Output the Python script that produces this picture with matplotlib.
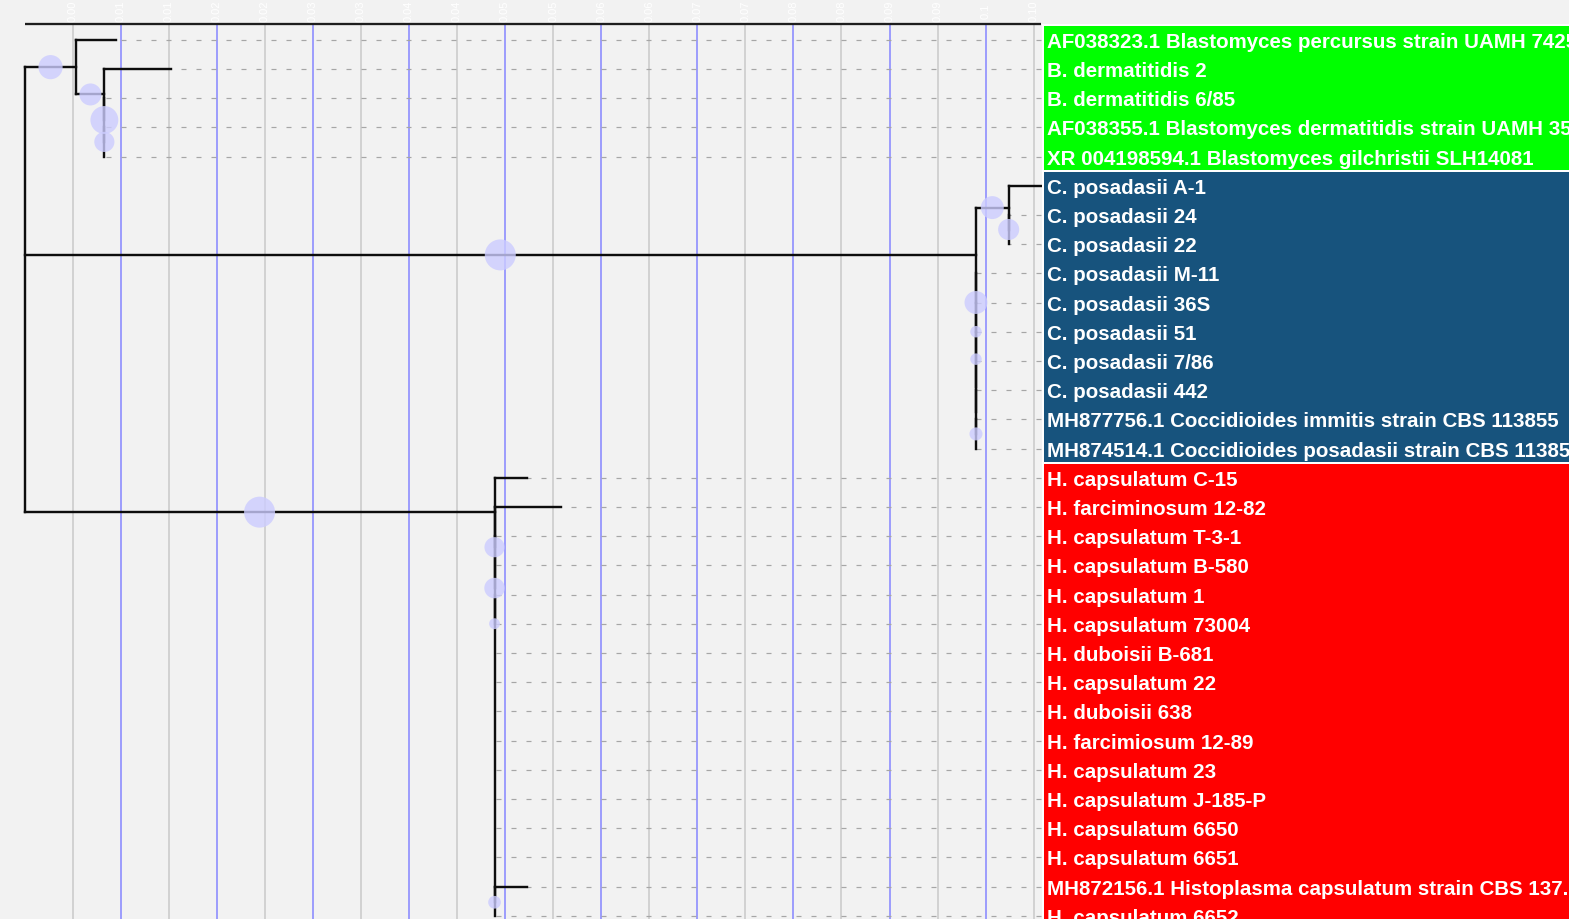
"""
Phylogenetic tree of Blastomyces / Coccidioides / Histoplasma isolates,
redrawn in the ETE-like style (support bubbles, aligned coloured labels).
"""
import matplotlib
matplotlib.use('Agg')
import matplotlib.pyplot as plt
from matplotlib.patches import Rectangle


# leaves, top to bottom (row index = position in list)
leaf_names = [
    'AF038323.1 Blastomyces percursus strain UAMH 7425',
    'B. dermatitidis 2',
    'B. dermatitidis 6/85',
    'AF038355.1 Blastomyces dermatitidis strain UAMH 35',
    'XR 004198594.1 Blastomyces gilchristii SLH14081',
    'C. posadasii A-1',
    'C. posadasii 24',
    'C. posadasii 22',
    'C. posadasii M-11',
    'C. posadasii 36S',
    'C. posadasii 51',
    'C. posadasii 7/86',
    'C. posadasii 442',
    'MH877756.1 Coccidioides immitis strain CBS 113855',
    'MH874514.1 Coccidioides posadasii strain CBS 113858',
    'H. capsulatum C-15',
    'H. farciminosum 12-82',
    'H. capsulatum T-3-1',
    'H. capsulatum B-580',
    'H. capsulatum 1',
    'H. capsulatum 73004',
    'H. duboisii B-681',
    'H. capsulatum 22',
    'H. duboisii 638',
    'H. farcimiosum 12-89',
    'H. capsulatum 23',
    'H. capsulatum J-185-P',
    'H. capsulatum 6650',
    'H. capsulatum 6651',
    'MH872156.1 Histoplasma capsulatum strain CBS 137.7',
    'H. capsulatum 6652',
]
leaf_parent = ['B1', 'B2', 'B3', 'B4', 'B4',
               'C2', 'C3', 'C3', 'D', 'E', 'F', 'G', 'Hp', 'H', 'H',
               'Hn', 'I1', 'I2', 'I2',
               'I3', 'I3', 'I3', 'I3', 'I3', 'I3', 'I3', 'I3', 'I3', 'I3',
               'K', 'K']
leaf_len = [0.0041, 0.0069, 0, 0, 0,
            0.0034, 0, 0, 0, 0, 0, 0, 0, 0, 0,
            0.0034, 0.0069, 0, 0,
            0, 0, 0, 0, 0, 0, 0, 0, 0, 0,
            0.0034, 0]

# internal nodes: parent, branch length, y (row units), support
node_names = ['root', 'B1', 'B2', 'B3', 'B4',
              'C', 'C2', 'C3', 'D', 'E', 'F', 'G', 'Hp', 'H',
              'Hn', 'I1', 'I2', 'I3', 'K']
node_parent = [None, 'root', 'B1', 'B2', 'B3',
               'root', 'C', 'C2', 'C', 'D', 'E', 'F', 'G', 'Hp',
               'root', 'Hn', 'I1', 'I2', 'I3']
node_len = [0, 0.0054, 0.0029, 0, 0,
            0.0990, 0.0034, 0, 0, 0, 0, 0, 0, 0,
            0.0489, 0, 0, 0, 0]
node_y = [8.56, 0.94, 1.875, 2.75, 3.5,
          7.37, 5.75, 6.5, 9.0, 10.0, 10.94, 11.88, 12.75, 13.5,
          16.18, 17.38, 18.78, 20.0, 29.54]
node_support = [0, 78, 71, 90, 65,
                100, 74, 68, 74, 37, 37, 0, 0, 42,
                100, 65, 66, 35, 41]

# coloured label groups: (first row, last row, colour)
groups = [(0, 4, '#00ff00'), (5, 14, '#17537d'), (15, 30, '#ff0000')]

# scale ticks
major_ticks = [0.01, 0.02, 0.03, 0.04, 0.05, 0.06, 0.07, 0.08, 0.09, 0.10]
major_labels = ['0.01', '0.02', '0.03', '0.04', '0.05', '0.06', '0.07', '0.08', '0.09', '0.1']
minor_ticks = [0.005, 0.015, 0.025, 0.035, 0.045, 0.055, 0.065, 0.075, 0.085, 0.095, 0.105]
minor_labels = ['0.00', '0.01', '0.02', '0.03', '0.04', '0.05', '0.06', '0.07', '0.08', '0.09', '0.10']


# layout of the canvas (pixels)
W, H, DPI = 1569, 920, 100
PX_PER_UNIT = 9610.0
X0_PX = 24.6
ROW_PX = 29.2
ROW0_PX = 40.7

BG = '#f2f2f2'
plt.rcParams['font.family'] = ['Liberation Sans', 'DejaVu Sans']

fig = plt.figure(figsize=(W / DPI, H / DPI), dpi=DPI, facecolor=BG)
ax = fig.add_axes([0, 0, 1, 1])
ax.set_facecolor(BG)
ax.set_xlim(-X0_PX / PX_PER_UNIT, (W - X0_PX) / PX_PER_UNIT)
ax.set_ylim((H - ROW0_PX) / ROW_PX, -ROW0_PX / ROW_PX)
ax.axis('off')

px = 72.0 / DPI  # points per pixel

# node x positions from branch lengths
node_x = {}
idx = {n: i for i, n in enumerate(node_names)}
def get_x(name):
    if name in node_x:
        return node_x[name]
    i = idx[name]
    p = node_parent[i]
    node_x[name] = 0.0 if p is None else get_x(p) + node_len[i]
    return node_x[name]
for n in node_names:
    get_x(n)
leaf_x = [node_x[p] + l for p, l in zip(leaf_parent, leaf_len)]
leaf_y = list(range(len(leaf_names)))
tree_end = max(leaf_x)
top_y = -0.54

# scale grid
for t in minor_ticks:
    ax.plot([t, t], [top_y, 40], color='#cbcbcb', lw=1.6 * px, zorder=1)
for t in major_ticks:
    ax.plot([t, t], [top_y, 40], color='#8a8aff', lw=1.6 * px, zorder=1)
for t, lab in zip(major_ticks + minor_ticks, major_labels + minor_labels):
    ax.text(t, -1.02, lab, rotation=90, ha='center', va='center',
            color='white', fontsize=8)
ax.plot([0, tree_end], [top_y, top_y], color='#1e1e1e', lw=2.3 * px,
        solid_capstyle='butt', zorder=3)

# dashed guides from each leaf to the aligned labels
for x, y in zip(leaf_x, leaf_y):
    if tree_end - x > 0.0002:
        ax.plot([tree_end, x], [y, y], color='#a6a6a6', lw=1.2 * px,
                linestyle=(0, (5 / 1.2, 10 / 1.2)), zorder=2)

# branches
tree_kw = dict(color='#0d0d0d', lw=2.4 * px, solid_capstyle='projecting', zorder=4)
children_y = {n: [] for n in node_names}
for p, y in zip(leaf_parent, leaf_y):
    children_y[p].append(y)
for n, p, y in zip(node_names, node_parent, node_y):
    if p is not None:
        children_y[p].append(y)
for n in node_names:
    ys = children_y[n]
    ax.plot([node_x[n], node_x[n]], [min(ys), max(ys)], **tree_kw)
for n, p, y in zip(node_names, node_parent, node_y):
    if p is not None and node_x[n] > node_x[p]:
        ax.plot([node_x[p], node_x[n]], [y, y], **tree_kw)
for p, x, y in zip(leaf_parent, leaf_x, leaf_y):
    if x > node_x[p]:
        ax.plot([node_x[p], x], [y, y], **tree_kw)

# support bubbles at branch midpoints
bx, by, bs = [], [], []
for n, p, y, s in zip(node_names, node_parent, node_y, node_support):
    if p is None or s <= 0:
        continue
    r = s * 0.155  # radius in pixels
    bx.append((node_x[p] + node_x[n]) / 2)
    by.append(y)
    bs.append((2 * r * px) ** 2)
ax.scatter(bx, by, s=bs, color='#ccccff', alpha=0.8, linewidths=0, zorder=5)

# coloured label blocks
box_x = tree_end + 0.0002
for first, last, col in groups:
    ax.add_patch(Rectangle((box_x, first - 0.5), 1.0, last - first + 1,
                           facecolor=col, edgecolor='white', lw=2 * px, zorder=6))
for name, y in zip(leaf_names, leaf_y):
    ax.text(tree_end + 0.00055, y + 0.245, name, ha='left', va='baseline',
            color='white', fontsize=14.75, fontweight='bold', zorder=7)

fig.savefig('out.png', dpi=DPI, facecolor=BG)
